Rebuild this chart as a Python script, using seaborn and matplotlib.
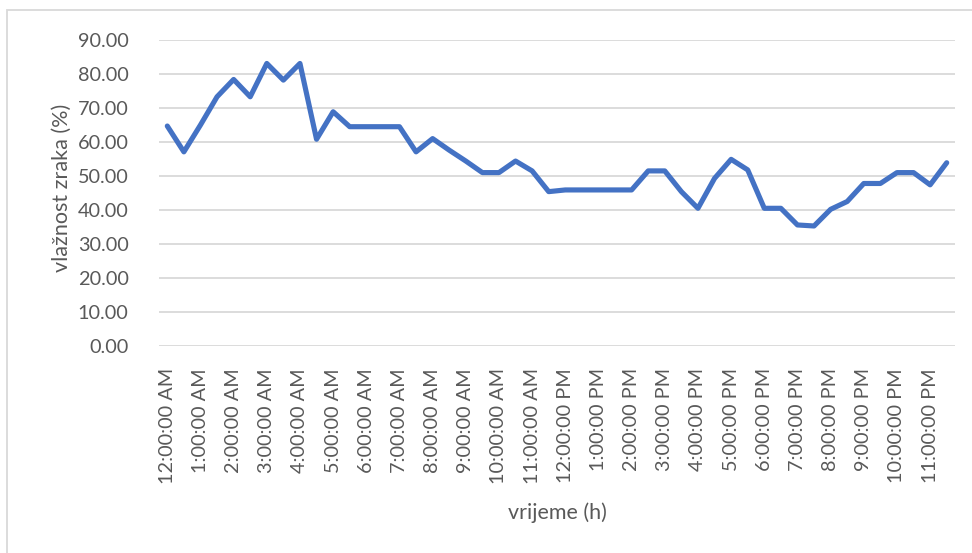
import numpy as np
import pandas as pd
import matplotlib
import matplotlib.pyplot as plt
import seaborn as sns
from matplotlib.patches import Rectangle
matplotlib.use("Agg")

sns.set_style("white")
plt.rcParams['font.family'] = ['Lato', 'DejaVu Sans']

# humidity readings every half hour over one day
humidity = [64.7, 57.1, 65.0, 73.3, 78.4, 73.3, 83.1, 78.2, 83.1, 60.8,
            68.9, 64.5, 64.5, 64.5, 64.5, 57.1, 61.0, 57.6, 54.4, 51.0,
            51.0, 54.4, 51.5, 45.4, 45.9, 45.9, 45.9, 45.9, 45.9, 51.5,
            51.5, 45.4, 40.5, 49.3, 54.9, 51.8, 40.5, 40.5, 35.6, 35.3,
            40.2, 42.5, 47.8, 47.8, 51.0, 51.0, 47.4, 53.9]
hour_labels = [f"{h % 12 or 12}:00:00 {'AM' if h < 12 else 'PM'}" for h in range(24)]
y_ticks = [0, 10, 20, 30, 40, 50, 60, 70, 80, 90]

df = pd.DataFrame({'slot': range(len(humidity)), 'humidity': humidity})

text_color = '#595959'
fig = plt.figure(figsize=(9.72, 5.53), dpi=100)
ax = fig.add_axes([159 / 972, 1 - 346 / 553, 796 / 972, 306 / 553])

sns.lineplot(data=df, x='slot', y='humidity', ax=ax, color='#4472C4', linewidth=3.7,
             solid_joinstyle='round', solid_capstyle='round')

ax.set_xlim(-0.5, len(humidity) - 0.5)
ax.set_ylim(0, 90)
ax.set_yticks(y_ticks)
ax.set_yticklabels([f"{v:.2f}" for v in y_ticks])
ax.set_xticks(range(0, len(humidity), 2))
ax.set_xticklabels(hour_labels, rotation=90, va='top')
ax.tick_params(axis='both', length=0, colors=text_color, labelsize=14.3)
ax.tick_params(axis='x', pad=16)
ax.tick_params(axis='y', pad=22)
ax.grid(axis='y', color='#D9D9D9', linewidth=1.3)
ax.set_axisbelow(True)
for s in ax.spines.values():
    s.set_visible(False)
ax.set_xlabel('')
ax.set_ylabel('')

fig.text(557 / 972, 1 - 513 / 553, 'vrijeme (h)', ha='center', va='center',
         fontsize=15.5, color=text_color)
fig.text(62 / 972, 1 - 188 / 553, 'vlažnost zraka (%)', ha='center', va='center',
         rotation=90, fontsize=15.5, color=text_color)

# chart border
fig.patches.append(Rectangle((7 / 972, -0.1), 1.1, 1 - 10 / 553 + 0.1, transform=fig.transFigure,
                             fill=False, edgecolor='#D9D9D9', linewidth=1.3))

fig.savefig('out.png', dpi=100)
